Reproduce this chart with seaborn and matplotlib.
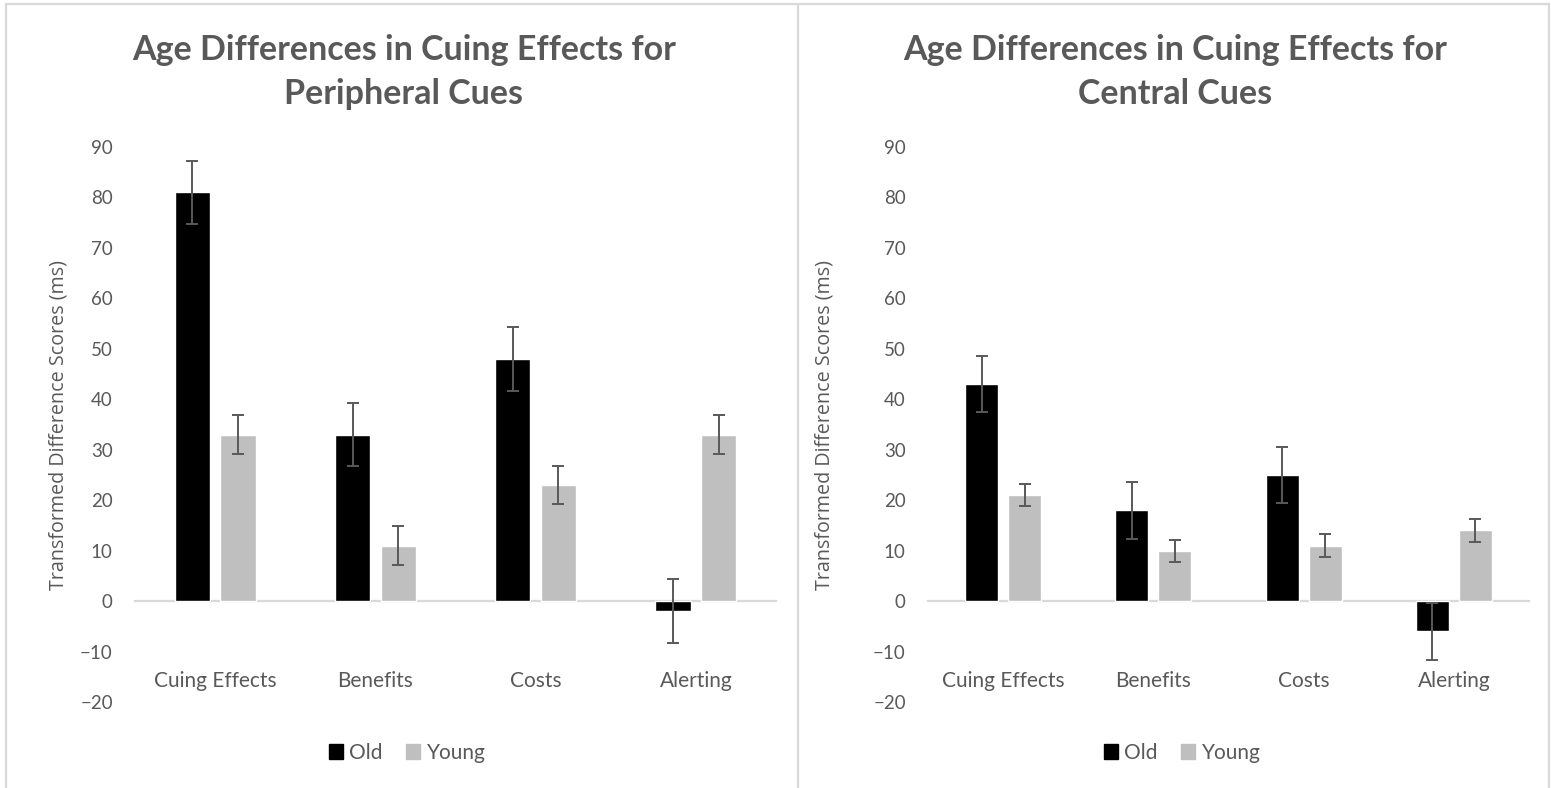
import pandas as pd
import matplotlib
matplotlib.use("Agg")
import matplotlib.pyplot as plt
import seaborn as sns
from matplotlib.lines import Line2D

# -------------------------
# Data
# -------------------------
categories = ["Cuing Effects", "Benefits", "Costs", "Alerting"]
groups = ["Old", "Young"]

periph_old = [81, 33, 48, -2]
periph_young = [33, 11, 23, 33]
periph_old_err = [6.3, 6.3, 6.3, 6.3]
periph_young_err = [3.8, 3.8, 3.8, 3.8]

central_old = [43, 18, 25, -6]
central_young = [21, 10, 11, 14]
central_old_err = [5.6, 5.6, 5.6, 5.6]
central_young_err = [2.2, 2.2, 2.2, 2.2]

titles = ["Age Differences in Cuing Effects for\nPeripheral Cues",
          "Age Differences in Cuing Effects for\nCentral Cues"]
ylabel = "Transformed Difference Scores (ms)"
yticks = [-20, -10, 0, 10, 20, 30, 40, 50, 60, 70, 80, 90]

TEXT = "#595959"
GRID = "#D9D9D9"
palette = {"Old": "#000000", "Young": "#BFBFBF"}

sns.set_style("white")
plt.rcParams["font.family"] = ["Lato", "DejaVu Sans"]


def make_frame(old, young):
    rows = []
    for cat, o, y in zip(categories, old, young):
        rows.append({"Category": cat, "Group": "Old", "Value": o})
        rows.append({"Category": cat, "Group": "Young", "Value": y})
    return pd.DataFrame(rows)


def draw_panel(fig, rect, old, young, old_err, young_err, title, title_x, legend_x, label_x):
    ax = fig.add_axes(rect)
    df = make_frame(old, young)
    sns.barplot(data=df, x="Category", y="Value", hue="Group", order=categories,
                hue_order=groups, palette=palette, width=0.57, gap=0.23,
                errorbar=None, ax=ax, legend=False, zorder=2)

    # error bars at the end of every drawn bar
    for container, errs in zip(ax.containers, [old_err, young_err]):
        for bar, e in zip(container, errs):
            cx = bar.get_x() + bar.get_width() / 2
            val = bar.get_y() + bar.get_height()
            ax.errorbar(cx, val, yerr=e, color=TEXT, lw=1.4, capsize=4.3,
                        capthick=1.4, zorder=3)

    ax.set_ylim(-20, 90)
    ax.set_xlim(-0.5, 3.5)
    ax.set_yticks(yticks)
    for s in ["top", "right", "left"]:
        ax.spines[s].set_visible(False)
    ax.spines["bottom"].set_position(("data", 0))
    ax.spines["bottom"].set_color(GRID)
    ax.spines["bottom"].set_linewidth(1.6)
    ax.spines["bottom"].set_zorder(1)
    ax.tick_params(axis="both", length=0, labelcolor=TEXT)
    ax.tick_params(axis="y", pad=16, labelsize=13.5)
    ax.tick_params(axis="x", pad=50, labelsize=15)
    ax.set_xlabel("")
    ax.set_ylabel(ylabel, fontsize=14.2, color=TEXT, family=["Open Sans", "DejaVu Sans"])
    ax.yaxis.set_label_coords(label_x, 0.5)

    fig.text(title_x, 1 - 72 / 788, title, ha="center", va="center", fontsize=24.5,
             fontweight="bold", color=TEXT, linespacing=1.45)

    handles = [plt.Rectangle((0, 0), 1, 1, color=palette[g]) for g in groups]
    fig.legend(handles, groups, loc="center", bbox_to_anchor=(legend_x, 1 - 753 / 788),
               ncol=2, frameon=False, fontsize=15, labelcolor=TEXT,
               handlelength=0.7, handleheight=0.7, handletextpad=0.3,
               columnspacing=1.1)
    return ax


fig = plt.figure(figsize=(15.51, 7.88), dpi=100)

draw_panel(fig, [135 / 1551, 1 - 702 / 788, 641 / 1551, 555 / 788],
           periph_old, periph_young, periph_old_err, periph_young_err,
           titles[0], 404 / 1551, 407 / 1551, -0.104)
draw_panel(fig, [928 / 1551, 1 - 702 / 788, 601 / 1551, 555 / 788],
           central_old, central_young, central_old_err, central_young_err,
           titles[1], 1175 / 1551, 1182 / 1551, -0.156)

# chart area borders
for xy in [([6 / 1551, 6 / 1551], [0, 1 - 4 / 788]),
           ([798 / 1551, 798 / 1551], [0, 1 - 4 / 788]),
           ([1549 / 1551, 1549 / 1551], [0, 1 - 4 / 788]),
           ([6 / 1551, 1549 / 1551], [1 - 4 / 788, 1 - 4 / 788])]:
    fig.add_artist(Line2D(xy[0], xy[1], color=GRID, lw=1.6, transform=fig.transFigure))

fig.savefig("out.png", dpi=100, facecolor="white")
